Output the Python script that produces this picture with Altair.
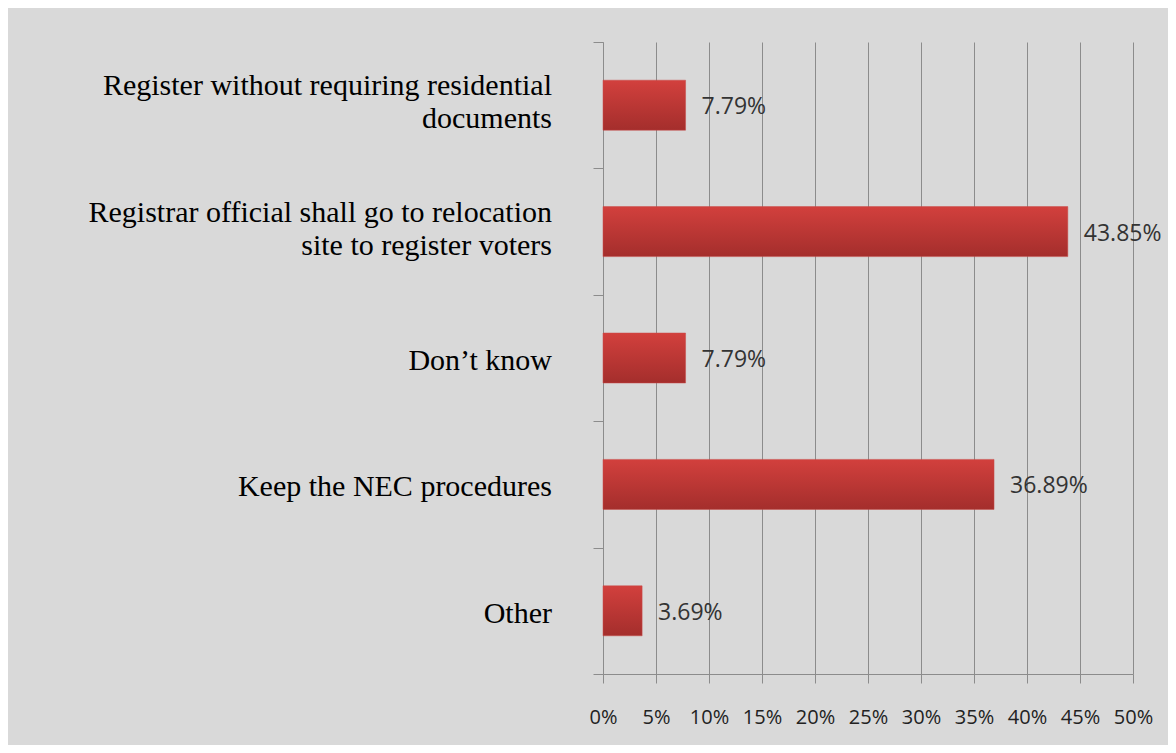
import altair as alt
import pandas as pd

categories = [
    "Register without requiring residential\ndocuments",
    "Registrar official shall go to relocation\nsite to register voters",
    "Don\u2019t know",
    "Keep the NEC procedures",
    "Other",
]
values = [0.0779, 0.4385, 0.0779, 0.3689, 0.0369]
x_ticks = [0, 0.05, 0.10, 0.15, 0.20, 0.25, 0.30, 0.35, 0.40, 0.45, 0.50]

df = pd.DataFrame({"category": categories, "value": values})
df["label"] = [f"{v*100:.2f}%" for v in values]

y_enc = alt.Y(
    "category:N",
    sort=categories,
    scale=alt.Scale(paddingInner=0, paddingOuter=0),
    axis=alt.Axis(
        title=None,
        labels=False,
        tickBand="extent",
        tickSize=10,
        tickColor="#8c8c8c",
        domainColor="#8c8c8c",
        grid=False,
    ),
)

x_enc = alt.X(
    "value:Q",
    scale=alt.Scale(domain=[0, 0.5], nice=False),
    axis=alt.Axis(
        title=None,
        values=x_ticks,
        format=".0%",
        labelFont="Open Sans",
        labelFontSize=20,
        labelColor="#222222",
        labelPadding=24,
        labelOverlap=False,
        labelFlush=False,
        tickSize=9,
        tickColor="#8c8c8c",
        domainColor="#8c8c8c",
        grid=True,
        gridColor="#8c8c8c",
        gridOpacity=1,
    ),
)

bars = alt.Chart(df).mark_bar(
    size=50,
    color=alt.Gradient(
        gradient="linear",
        x1=0, x2=0, y1=0, y2=1,
        stops=[
            alt.GradientStop(offset=0, color="#d2403d"),
            alt.GradientStop(offset=1, color="#a42e2c"),
        ],
    ),
    stroke="#c84a48",
    strokeWidth=0.5,
).encode(x=x_enc, y=y_enc)

value_text = alt.Chart(df).mark_text(
    align="left",
    baseline="middle",
    dx=16,
    dy=2,
    font="Open Sans",
    fontSize=23,
    color="#333333",
).encode(x="value:Q", y=alt.Y("category:N", sort=categories), text="label:N")

label_style = dict(
    align="right",
    baseline="middle",
    dx=-51,
    lineBreak="\n",
    lineHeight=33,
    font="Liberation Serif",
    fontSize=30,
    color="#000000",
)

single_labels = alt.Chart(df).transform_filter(
    "indexof(datum.category, '\\n') < 0"
).mark_text(dy=3, **label_style).encode(
    x=alt.datum(0), y=alt.Y("category:N", sort=categories), text="category:N"
)

double_labels = alt.Chart(df).transform_filter(
    "indexof(datum.category, '\\n') >= 0"
).mark_text(dy=-19, **label_style).encode(
    x=alt.datum(0), y=alt.Y("category:N", sort=categories), text="category:N"
)

chart = (
    alt.layer(bars, value_text, single_labels, double_labels)
    .properties(
        width=530,
        height=632,
        autosize=alt.AutoSizeParams(type="none"),
        padding={"left": 595, "top": 34, "right": 35, "bottom": 71},
        background="#d9d9d9",
    )
    .configure_view(stroke=None)
)

chart.save("out.html", embed_options={"renderer": "svg", "actions": False})
